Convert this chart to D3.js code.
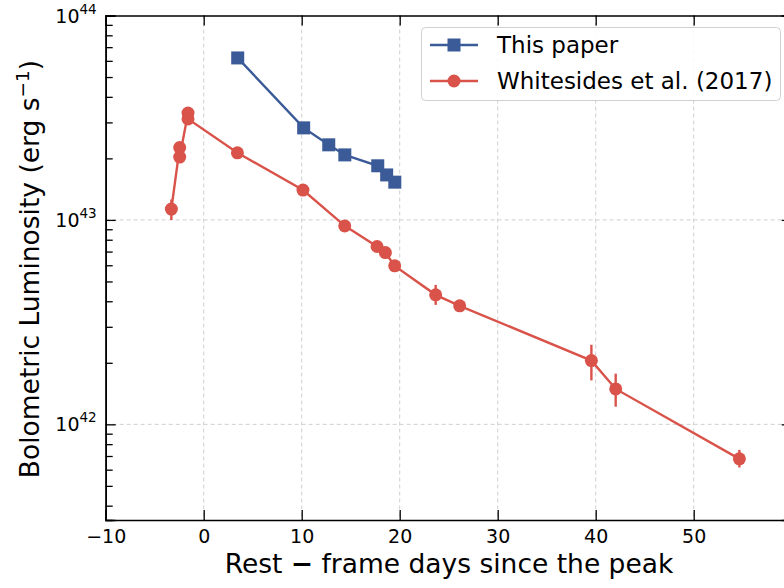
<!DOCTYPE html>
<html><head><meta charset="utf-8">
<script src="https://cdn.jsdelivr.net/npm/d3@7"></script>
<style>body{margin:0;background:#fff}svg{font-family:"DejaVu Sans",sans-serif}</style>
</head><body>
<svg id="c" width="784" height="588"></svg>
<script>
// Data
const thisPaperDays = [3.47, 10.2, 12.76, 14.4, 17.76, 18.67, 19.5];
const thisPaperLum  = [6.2e43, 2.82e43, 2.33e43, 2.08e43, 1.84e43, 1.66e43, 1.53e43];

const whitesidesDays = [-3.3, -2.45, -2.45, -1.6, -1.6, 3.44, 10.13, 14.39, 17.69, 18.54, 19.49, 23.67, 26.12, 39.56, 42.04, 54.66];
const whitesidesLum  = [1.13e43, 2.26e43, 2.03e43, 3.33e43, 3.12e43, 2.13e43, 1.40e43, 9.35e42, 7.41e42, 6.92e42, 5.96e42, 4.30e42, 3.80e42, 2.05e42, 1.49e42, 6.78e41];
const whitesidesLo   = [1.0e43, 2.12e43, 1.9e43, 3.22e43, 3.02e43, 2.1e43, 1.38e43, 9.2e42, 7.3e42, 6.8e42, 5.85e42, 3.84e42, 3.72e42, 1.64e42, 1.22e42, 6.15e41];
const whitesidesHi   = [1.26e43, 2.4e43, 2.16e43, 3.45e43, 3.24e43, 2.16e43, 1.42e43, 9.5e42, 7.52e42, 7.04e42, 6.07e42, 4.81e42, 3.88e42, 2.45e42, 1.77e42, 7.5e41];

const xTicks = [-10, 0, 10, 20, 30, 40, 50];
const yTicks = [1e42, 1e43, 1e44];
const yTickExp = ["42", "43", "44"];
const seriesNames = ["This paper", "Whitesides et al. (2017)"];

const BLUE = "#3b5b98", RED = "#d9534a";
const svg = d3.select("#c");
const L = 105.7, R = 791.7, T = 15.5, B = 520;
const x = d3.scaleLinear().domain([-10, 60]).range([L, R]);
const y = d3.scaleLog().domain([Math.pow(10, 41.532), 1e44]).range([B, T]);

// grid
const g = svg.append("g");
g.selectAll(".gx").data(xTicks.slice(1)).join("line")
  .attr("x1", d => x(d)).attr("x2", d => x(d)).attr("y1", T).attr("y2", B)
  .attr("stroke", "#cfcfcf").attr("stroke-width", 1).attr("stroke-dasharray", "4,3");
g.selectAll(".gy").data(yTicks.slice(0, 2)).join("line")
  .attr("x1", L).attr("x2", R).attr("y1", d => y(d)).attr("y2", d => y(d))
  .attr("stroke", "#cfcfcf").attr("stroke-width", 1).attr("stroke-dasharray", "4,3");

// minor y ticks values
const minor = [];
for (let e = 41; e < 44; e++) for (let m = 2; m <= 9; m++) { const v = m * Math.pow(10, e); if (v >= y.domain()[0] && v <= 1e44) minor.push(v); }

// axes (ticks inward)
const ax = d3.axisBottom(x).tickValues(xTicks).tickSize(-10).tickPadding(10).tickFormat(d => d < 0 ? "\u2212" + Math.abs(d) : d);
const axB = svg.append("g").attr("transform", `translate(0,${B})`).call(ax);
axB.selectAll("text").attr("font-size", 19).attr("fill", "#000").attr("font-family", "DejaVu Sans");
svg.append("g").attr("transform", `translate(0,${T})`).call(d3.axisTop(x).tickValues(xTicks).tickSize(-10).tickFormat(""));
svg.append("g").attr("transform", `translate(${L},0)`).call(d3.axisLeft(y).tickValues(yTicks).tickSize(-10).tickFormat(""));
svg.append("g").attr("transform", `translate(${L},0)`).call(d3.axisLeft(y).tickValues(minor).tickSize(-7).tickFormat(""));
svg.append("g").attr("transform", `translate(${R},0)`).call(d3.axisRight(y).tickValues(yTicks).tickSize(-10).tickFormat(""));
svg.append("g").attr("transform", `translate(${R},0)`).call(d3.axisRight(y).tickValues(minor).tickSize(-7).tickFormat(""));
svg.selectAll(".domain").attr("stroke", "#000").attr("stroke-width", 1.6);
svg.selectAll(".tick line").attr("stroke", "#000").attr("stroke-width", 1.3);

// y tick labels with superscripts
yTicks.forEach((v, i) => {
  const t = svg.append("text").attr("x", L - 9).attr("y", y(v) + 7).attr("text-anchor", "end")
    .attr("font-size", 19).attr("fill", "#000");
  t.append("tspan").text("10");
  t.append("tspan").attr("dy", -9).attr("font-size", 13.5).text(yTickExp[i]);
});

// axis titles
const xl = svg.append("text").attr("x", 449).attr("y", 573).attr("text-anchor", "middle")
  .attr("font-size", 26.5);
xl.append("tspan").text("Rest ");
xl.append("tspan").attr("font-weight", "bold").text("\u2212");
xl.append("tspan").text(" frame days since the peak");
const yl = svg.append("text").attr("transform", `translate(39,${269}) rotate(-90)`)
  .attr("text-anchor", "middle").attr("font-size", 26.5);
yl.append("tspan").text("Bolometric Luminosity (erg s");
yl.append("tspan").attr("dy", -10).attr("font-size", 18.5).text("\u22121");
yl.append("tspan").attr("dy", 10).text(")");

// clip
svg.append("clipPath").attr("id", "clip").append("rect").attr("x", L).attr("y", T).attr("width", R - L).attr("height", B - T);
const plot = svg.append("g").attr("clip-path", "url(#clip)");

// Whitesides
const wIdx = d3.range(whitesidesDays.length);
const line = d3.line().x(d => x(d[0])).y(d => y(d[1]));
plot.append("path").datum(wIdx.map(i => [whitesidesDays[i], whitesidesLum[i]]))
  .attr("d", line).attr("fill", "none").attr("stroke", RED).attr("stroke-width", 2.4);
plot.selectAll(".eb").data(wIdx).join("line")
  .attr("x1", i => x(whitesidesDays[i])).attr("x2", i => x(whitesidesDays[i]))
  .attr("y1", i => y(whitesidesLo[i])).attr("y2", i => y(whitesidesHi[i]))
  .attr("stroke", RED).attr("stroke-width", 2.4);
plot.selectAll(".wc").data(wIdx).join("circle")
  .attr("cx", i => x(whitesidesDays[i])).attr("cy", i => y(whitesidesLum[i])).attr("r", 6.5)
  .attr("fill", RED);

// This paper
const tIdx = d3.range(thisPaperDays.length);
plot.append("path").datum(tIdx.map(i => [thisPaperDays[i], thisPaperLum[i]]))
  .attr("d", line).attr("fill", "none").attr("stroke", BLUE).attr("stroke-width", 2.4);
plot.selectAll(".ts").data(tIdx).join("rect")
  .attr("x", i => x(thisPaperDays[i]) - 6.5).attr("y", i => y(thisPaperLum[i]) - 6.5)
  .attr("width", 13).attr("height", 13).attr("fill", BLUE);

// legend
const lg = svg.append("g");
lg.append("rect").attr("x", 421.5).attr("y", 27.5).attr("width", 359).attr("height", 73).attr("rx", 4)
  .attr("fill", "#fff").attr("fill-opacity", 0.85).attr("stroke", "#d0d0d0").attr("stroke-width", 1);
const rows = [{c: BLUE, m: "sq", y: 45}, {c: RED, m: "ci", y: 81}];
rows.forEach((r, i) => {
  lg.append("line").attr("x1", 430).attr("x2", 478).attr("y1", r.y).attr("y2", r.y).attr("stroke", r.c).attr("stroke-width", 2.4);
  if (r.m === "sq") lg.append("rect").attr("x", 454 - 6.5).attr("y", r.y - 6.5).attr("width", 13).attr("height", 13).attr("fill", r.c);
  else lg.append("circle").attr("cx", 454).attr("cy", r.y).attr("r", 6.5).attr("fill", r.c);
  lg.append("text").attr("x", 497).attr("y", r.y + 8).attr("font-size", 23).text(seriesNames[i]);
});
</script>
</body></html>
